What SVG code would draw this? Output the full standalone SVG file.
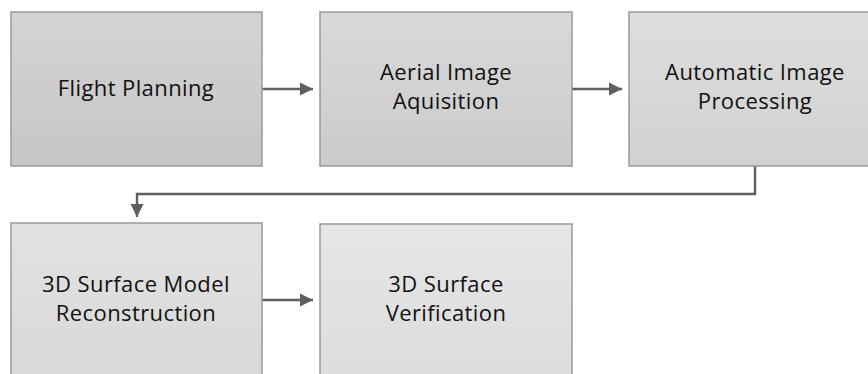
<svg xmlns="http://www.w3.org/2000/svg" width="868" height="374" viewBox="0 0 868 374">
<style>
.box{stroke:#999999;stroke-width:1.5}
.lbl{font-family:"Open Sans","Liberation Sans",sans-serif;font-size:22px;letter-spacing:0.4px;fill:#111111;text-anchor:middle}
.conn{fill:none;stroke:#5f5f5f;stroke-width:2.4}
</style>
<defs>
<linearGradient id="g1" x1="0" y1="0" x2="0" y2="1"><stop offset="0" stop-color="#d4d4d4"/><stop offset="1" stop-color="#c6c6c6"/></linearGradient>
<linearGradient id="g2" x1="0" y1="0" x2="0" y2="1"><stop offset="0" stop-color="#d9d9d9"/><stop offset="1" stop-color="#cbcbcb"/></linearGradient>
<linearGradient id="g3" x1="0" y1="0" x2="0" y2="1"><stop offset="0" stop-color="#dedede"/><stop offset="1" stop-color="#d1d1d1"/></linearGradient>
<linearGradient id="g4" x1="0" y1="0" x2="0" y2="1"><stop offset="0" stop-color="#e2e2e2"/><stop offset="1" stop-color="#d8d8d8"/></linearGradient>
<linearGradient id="g5" x1="0" y1="0" x2="0" y2="1"><stop offset="0" stop-color="#e6e6e6"/><stop offset="1" stop-color="#dcdcdc"/></linearGradient>
<marker id="ah" viewBox="0 0 10 10" refX="10" refY="5" markerWidth="5.5" markerHeight="5.5" markerUnits="strokeWidth" orient="auto"><path d="M0,0 L10,5 L0,10 z" fill="#5f5f5f"/></marker>
</defs>
<g id="connectors">
<line class="conn" x1="262" y1="89" x2="313" y2="89" marker-end="url(#ah)"/>
<line class="conn" x1="572" y1="89" x2="622" y2="89" marker-end="url(#ah)"/>
<polyline class="conn" points="755,166 755,194 137,194 137,217" marker-end="url(#ah)"/>
<line class="conn" x1="262" y1="300" x2="313" y2="300" marker-end="url(#ah)"/>
</g>
<g id="n1"><rect class="box" x="11" y="12" width="251" height="154" fill="url(#g1)"/><text class="lbl" x="136" y="96">Flight Planning</text></g>
<g id="n2"><rect class="box" x="320" y="12" width="252" height="154" fill="url(#g2)"/><text class="lbl" x="446" y="80">Aerial Image</text><text class="lbl" x="446" y="109">Aquisition</text></g>
<g id="n3"><rect class="box" x="629" y="12" width="245" height="154" fill="url(#g3)"/><text class="lbl" x="755" y="80">Automatic Image</text><text class="lbl" x="755" y="109">Processing</text></g>
<g id="n4"><rect class="box" x="11" y="223" width="251" height="160" fill="url(#g4)"/><text class="lbl" x="136" y="292">3D Surface Model</text><text class="lbl" x="136" y="321">Reconstruction</text></g>
<g id="n5"><rect class="box" x="320" y="224" width="252" height="160" fill="url(#g5)"/><text class="lbl" x="446" y="292">3D Surface</text><text class="lbl" x="446" y="321">Verification</text></g>
</svg>
